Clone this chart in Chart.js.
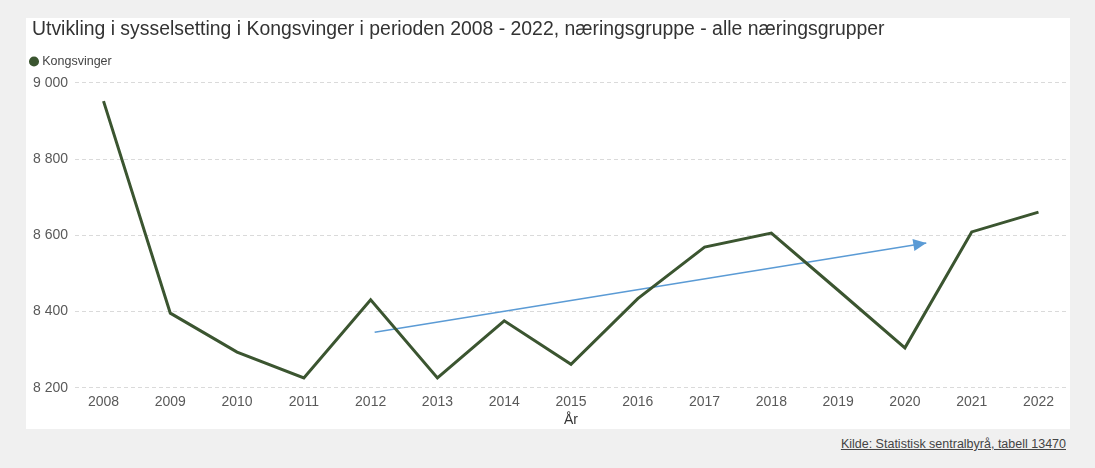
<!DOCTYPE html>
<html>
<head>
<meta charset="utf-8">
<script src="https://cdn.jsdelivr.net/npm/chart.js@4.4.1/dist/chart.umd.min.js"></script>
<style>
  html, body { margin: 0; padding: 0; }
  body { width: 1095px; height: 468px; background: #f0f0f0; position: relative; overflow: hidden; font-family: "Liberation Sans", Arial, sans-serif; }
  #panel { position: absolute; left: 26px; top: 18px; width: 1044px; height: 411px; background: #fff; }
  #kilde { position: absolute; right: 29px; top: 437px; font-size: 12.5px; color: #444; text-decoration: underline; }
</style>
</head>
<body>
<div id="panel"><canvas id="grafSyss" width="1044" height="411"></canvas></div>
<div id="kilde">Kilde: Statistisk sentralbyrå, tabell 13470</div>
<script>
// årstall og sysselsatte (lest av figuren)
const aar = [2008, 2009, 2010, 2011, 2012, 2013, 2014, 2015, 2016, 2017, 2018, 2019, 2020, 2021, 2022];
const sysselsatte = [8952, 8396, 8294, 8226, 8431, 8226, 8376, 8262, 8434, 8569, 8606, 8456, 8305, 8609, 8661];
// trendpil (start og slutt)
const pilX = [2012.06, 2020.32];
const pilY = [8346, 8580];
const yTicks = [8200, 8400, 8600, 8800, 9000];

const gronn = '#3b5530';
const bla = '#5b9bd5';
const font = '"Liberation Sans", Arial, sans-serif';

function tusen(v) {
  return String(v).replace(/\B(?=(\d{3})+(?!\d))/g, ' ');
}

// tegner pilspissen på siste punkt i pil-datasettet
const pilspiss = {
  id: 'pilspiss',
  afterDatasetsDraw(chart) {
    const meta = chart.getDatasetMeta(1);
    if (!meta || meta.data.length < 2) return;
    const a = meta.data[0], b = meta.data[1];
    const ang = Math.atan2(b.y - a.y, b.x - a.x);
    const ctx = chart.ctx;
    const len = 13, half = 6;
    ctx.save();
    ctx.fillStyle = bla;
    ctx.translate(b.x, b.y);
    ctx.rotate(ang);
    ctx.beginPath();
    ctx.moveTo(0, 0);
    ctx.lineTo(-len, -half);
    ctx.lineTo(-len, half);
    ctx.closePath();
    ctx.fill();
    ctx.restore();
  }
};

// litt ekstra luft under forklaringen, og ingen klipping av prikken
const legendLuft = {
  id: 'legendLuft',
  beforeInit(chart) {
    const lg = chart.legend;
    const fit = lg.fit;
    lg.fit = function() {
      fit.call(this);
      this.height += 5;
    };
    lg.draw = function() {
      if (this.options.display) this._draw();
    };
  }
};

const ctx = document.getElementById('grafSyss').getContext('2d');
new Chart(ctx, {
  type: 'line',
  data: {
    datasets: [
      {
        label: 'Kongsvinger',
        data: aar.map((a, i) => ({ x: a, y: sysselsatte[i] })),
        borderColor: gronn,
        backgroundColor: gronn,
        borderWidth: 3,
        pointRadius: 0,
        tension: 0
      },
      {
        label: 'trend',
        data: pilX.map((x, i) => ({ x: x, y: pilY[i] })),
        borderColor: bla,
        backgroundColor: bla,
        borderWidth: 1.6,
        pointRadius: 0,
        tension: 0
      }
    ]
  },
  options: {
    responsive: false,
    animation: false,
    layout: { padding: { left: 6, right: 3, top: 0, bottom: 4.5 } },
    plugins: {
      title: {
        display: true,
        text: 'Utvikling i sysselsetting i Kongsvinger i perioden 2008 - 2022, næringsgruppe - alle næringsgrupper',
        align: 'start',
        color: '#333',
        font: { family: font, size: 19.4, weight: 'normal' },
        padding: { top: 0, bottom: 14 }
      },
      legend: {
        display: true,
        align: 'start',
        labels: {
          usePointStyle: true,
          pointStyle: 'circle',
          boxWidth: 4,
          boxHeight: 5,
          padding: 0,
          color: '#444',
          font: { family: font, size: 12.5 },
          filter: item => item.datasetIndex === 0
        }
      },
      tooltip: { enabled: false }
    },
    scales: {
      x: {
        type: 'linear',
        min: 2007.573,
        max: 2022.427,
        grid: { display: false, drawTicks: false },
        border: { display: false },
        ticks: {
          stepSize: 1,
          includeBounds: false,
          color: '#595959',
          padding: 5.5,
          font: { family: font, size: 14 },
          callback: v => String(v)
        },
        title: {
          display: true,
          text: 'År',
          color: '#333',
          padding: 0,
          font: { family: font, size: 14, lineHeight: 0.63 }
        }
      },
      y: {
        min: yTicks[0],
        max: yTicks[yTicks.length - 1],
        border: { display: false, dash: [4, 3] },
        grid: { color: '#dadada', drawTicks: false, lineWidth: 1 },
        afterFit: scale => { scale.width = 43; },
        ticks: {
          stepSize: 200,
          padding: 7,
          color: '#595959',
          font: { family: font, size: 14 },
          callback: v => tusen(v)
        }
      }
    }
  },
  plugins: [pilspiss, legendLuft]
});
</script>
</body>
</html>
